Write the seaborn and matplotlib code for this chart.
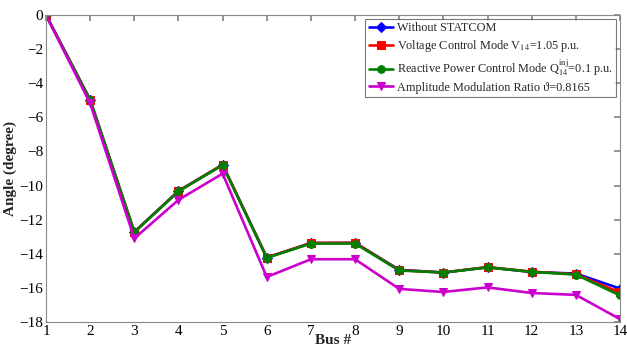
import matplotlib
matplotlib.use("Agg")
import matplotlib.pyplot as plt
import seaborn as sns
import pandas as pd

buses = list(range(1, 15))
without_statcom = [0, -4.98, -12.72, -10.32, -8.78, -14.22, -13.37, -13.36, -14.94, -15.10, -14.79, -15.07, -15.16, -16.04]
voltage_ctrl = [0, -4.98, -12.72, -10.32, -8.78, -14.22, -13.37, -13.36, -14.96, -15.10, -14.78, -15.05, -15.20, -16.27]
reactive_ctrl = [0, -4.98, -12.74, -10.34, -8.80, -14.24, -13.40, -13.40, -14.98, -15.10, -14.80, -15.06, -15.22, -16.44]
amplitude_mod = [0, -5.18, -13.10, -10.84, -9.30, -15.36, -14.32, -14.32, -16.06, -16.24, -15.97, -16.30, -16.41, -17.83]

labels = [
    "Without STATCOM",
    r"Voltage Control Mode V$_{14}$=1.05 p.u.",
    r"Reactive Power Control Mode Q$_{14}^{\mathrm{inj}}$=0.1 p.u.",
    "Amplitude Modulation Ratio \u03d1=0.8165",
]
series = [without_statcom, voltage_ctrl, reactive_ctrl, amplitude_mod]
colors = ["#0000ff", "#ff0000", "#008000", "#cc00cc"]
markers = ["D", "s", "o", "v"]

sns.set_theme(style="white")
plt.rcParams["font.family"] = ["Liberation Serif", "DejaVu Serif"]
plt.rcParams["mathtext.fontset"] = "stix"

fig = plt.figure(figsize=(6.27, 3.47), dpi=100)
ax = fig.add_axes([46 / 627, 1 - 322 / 347, (620 - 46) / 627, (322 - 15) / 347])

for lab, vals, c, m in zip(labels, series, colors, markers):
    df = pd.DataFrame({"Bus": buses, "Angle": vals})
    sns.lineplot(data=df, x="Bus", y="Angle", ax=ax, color=c, marker=m,
                 markersize=5.5, linewidth=1.9, markeredgecolor=c, label=lab)

ax.set_xlim(1, 14)
ax.set_ylim(-18, 0)
ax.set_xticks(buses)
ax.set_yticks(list(range(-18, 1, 2)))
ax.tick_params(direction="in", top=True, right=True, length=4, color="#888888",
               labelsize=11, pad=2, colors="#888888", labelcolor="black")
for s in ax.spines.values():
    s.set_color("#888888")
    s.set_linewidth(0.8)
ax.set_xlabel("Bus #", fontsize=11, fontweight="bold", labelpad=-2.5)
ax.set_ylabel("Angle (degree)", fontsize=11, fontweight="bold", labelpad=2)

leg = ax.legend(loc="upper right", fontsize=8.8, frameon=True, fancybox=False,
                borderaxespad=0.3, handlelength=2.0, labelspacing=0.3,
                borderpad=0.3, handletextpad=0.3)
leg.get_frame().set_edgecolor("#555555")
leg.get_frame().set_linewidth(0.8)

fig.savefig("out.png", dpi=100)
